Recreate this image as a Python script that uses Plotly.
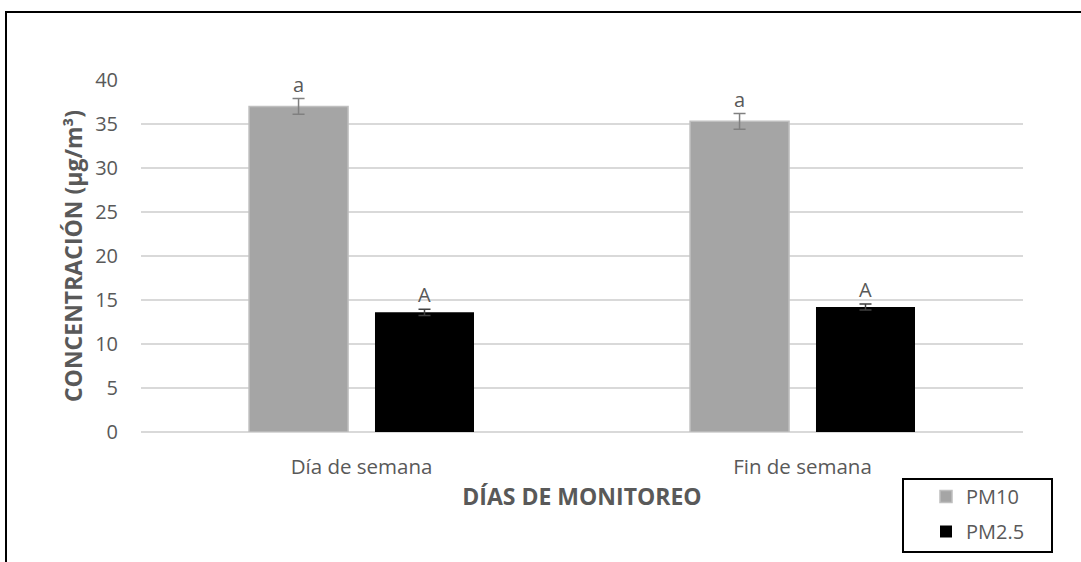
import plotly.graph_objects as go

categories = ["Día de semana", "Fin de semana"]
pm10 = [37.0, 35.3]
pm10_err = [0.9, 0.9]
pm25 = [13.6, 14.2]
pm25_err = [0.35, 0.35]
pm10_letters = ["a", "a"]
pm25_letters = ["A", "A"]
y_ticks = [0, 5, 10, 15, 20, 25, 30, 35, 40]

font_fam = "Open Sans, Noto Sans, sans-serif"
txt_col = "#595959"
W, H = 1081, 562

fig = go.Figure()
fig.add_trace(go.Bar(
    x=categories, y=pm10, name="PM10", legendgroup="g1",
    marker=dict(color="#a5a5a5", line=dict(color="#bfbfbf", width=1.5)),
    width=0.2245, offset=-0.255,
    error_y=dict(type="data", array=pm10_err, color="#808080", thickness=1.5, width=6),
))
fig.add_trace(go.Bar(
    x=categories, y=pm25, name="PM2.5", legendgroup="g2",
    marker=dict(color="#000000", line=dict(width=0)),
    width=0.2245, offset=0.0306,
    error_y=dict(type="data", array=pm25_err, color="#404040", thickness=1.5, width=6),
))

for i, c in enumerate(categories):
    fig.add_annotation(x=i - 0.255 + 0.2245 / 2, y=pm10[i] + pm10_err[i], text=pm10_letters[i],
                       showarrow=False, yanchor="bottom", yshift=-2,
                       font=dict(family=font_fam, size=20, color=txt_col))
    fig.add_annotation(x=i + 0.0306 + 0.2245 / 2, y=pm25[i] + pm25_err[i], text=pm25_letters[i],
                       showarrow=False, yanchor="bottom", yshift=-1,
                       font=dict(family=font_fam, size=20, color=txt_col))

# outer chart border (right and bottom edges lie outside the picture)
fig.add_shape(type="rect", xref="paper", yref="paper",
              x0=(6 - 141) / 882, x1=1.2, y0=-0.5, y1=(432 - 12) / 352,
              line=dict(color="black", width=2), fillcolor="rgba(0,0,0,0)")
# legend frame
fig.add_shape(type="rect", xref="paper", yref="paper",
              x0=(903 - 141) / 882, x1=(1052 - 141) / 882,
              y0=(432 - 552) / 352, y1=(432 - 479) / 352,
              line=dict(color="black", width=2), fillcolor="white", layer="below")

fig.update_layout(
    width=W, height=H,
    margin=dict(l=141, r=58, t=80, b=130, autoexpand=False),
    paper_bgcolor="white", plot_bgcolor="white",
    barmode="overlay",
    font=dict(family=font_fam, color=txt_col, size=20),
    xaxis=dict(
        type="category", range=[-0.5, 1.5], showgrid=False, showline=False, automargin=False,
        ticks="", tickfont=dict(size=20.5, color=txt_col), ticklabelstandoff=20,
        title=dict(text="<b>DÍAS DE MONITOREO</b>", font=dict(size=23, color=txt_col), standoff=10),
    ),
    yaxis=dict(
        range=[0, 40], tickvals=y_ticks, showgrid=True, gridcolor="#d9d9d9", gridwidth=1.5,
        zeroline=True, zerolinecolor="#d9d9d9", zerolinewidth=1.5, showline=False, automargin=False,
        ticks="", ticklabelstandoff=22, tickfont=dict(size=20, color=txt_col),
        title=dict(text="<b>CONCENTRACIÓN (µg/m³)</b>", font=dict(size=23, color=txt_col), standoff=6),
    ),
    legend=dict(
        xref="container", yref="container",
        x=926 / W, y=1 - 477 / H, xanchor="left", yanchor="top",
        borderwidth=0, bgcolor="rgba(0,0,0,0)",
        font=dict(size=20, color=txt_col), itemwidth=30, tracegroupgap=6,
    ),
    showlegend=True,
)

fig.write_html("out.html", config={"displayModeBar": False},
               post_script="document.body.style.margin='0';document.body.style.overflow='hidden';")
